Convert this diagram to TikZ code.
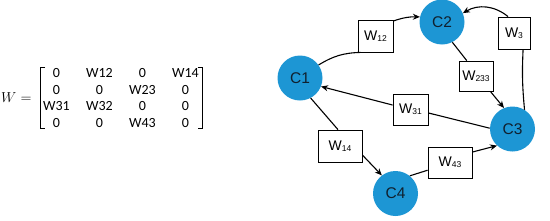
\documentclass[tikz,border=0pt]{standalone}
\usepackage{fontspec}
\setmainfont{Liberation Sans}
\newfontfamily\matfont{Carlito}
\usetikzlibrary{arrows.meta,matrix}
\definecolor{cblue}{HTML}{1D96D4}
\definecolor{ctext}{HTML}{10202E}
\tikzset{
  cnode/.style={circle,fill=cblue,minimum size=45pt,inner sep=0pt,
    font=\fontsize{15.5}{15.5}\selectfont,text=ctext},
  wbox/.style={draw=black,line width=0.8pt,fill=white,inner sep=0pt,
    font=\fontsize{14}{14}\selectfont},
  conn/.style={line width=1.1pt},
  arr/.style={conn,-{Stealth[length=7pt,width=6pt]}},
  mcell/.style={minimum width=43pt,minimum height=16.5pt,inner sep=0pt,
    font=\matfont\fontsize{14}{14}\selectfont},
  brk/.style={line width=0.9pt}
}
\newcommand{\wlab}[1]{W\raisebox{-0.8pt}{\fontsize{8.5}{8.5}\selectfont #1}}
\begin{document}
\begin{tikzpicture}[x=1pt,y=-1pt]
\useasboundingbox (0,0) rectangle (550,220);
% matrix
\node[anchor=east,font=\fontsize{15}{15}\selectfont] (Wlab) at (35,98) {$W=$};
\matrix (M) [matrix of nodes,nodes={mcell},row sep=0pt,column sep=0pt] at (121,98) {
  0 & W12 & 0 & W14 \\
  0 & 0 & W23 & 0 \\
  W31 & W32 & 0 & 0 \\
  0 & 0 & W43 & 0 \\
};
\coordinate (LT) at (40,67.5);
\coordinate (LB) at (40,128);
\coordinate (RT) at (202.5,67.5);
\coordinate (RB) at (202.5,128);
\draw[brk] ([xshift=5pt]LT) -- (LT) -- (LB) -- ([xshift=5pt]LB);
\draw[brk] ([xshift=-5pt]RT) -- (RT) -- (RB) -- ([xshift=-5pt]RB);
% circles
\node[cnode] (C1) at (300,78) {C1};
\node[cnode] (C2) at (442,22) {C2};
\node[cnode] (C3) at (512.5,129) {C3};
\node[cnode] (C4) at (395.5,193.5) {C4};
% boxes
\node[wbox,minimum width=35pt,minimum height=32pt] (W12) at (375.5,36) {\wlab{12}};
\node[wbox,minimum width=32pt,minimum height=32pt] (W3) at (514,33) {\wlab{3}};
\node[wbox,minimum width=34pt,minimum height=30pt] (W233) at (476,76) {\wlab{233}};
\node[wbox,minimum width=35pt,minimum height=31pt] (W31) at (410.5,109.5) {\wlab{31}};
\node[wbox,minimum width=44pt,minimum height=32pt] (W14) at (340,146) {\wlab{14}};
\node[wbox,minimum width=44pt,minimum height=31pt] (W43) at (450,162.5) {\wlab{43}};
% connectors
\draw[conn] (C1.35) to[bend left=15] (W12.-132);
\draw[arr] (W12.40) to[bend left=10] (C2.167);
\draw[arr] (W3.110) to[bend right=35] (C2.23);
\draw[conn] (C3.58) to[bend left=4] (W3.-61);
\draw[conn] (C2.-63) -- (W233.121);
\draw[arr] (W233.-47) -- (C3.112);
\draw[conn] (C3.178) -- (W31.-11);
\draw[arr] (W31.166) -- (C1.-22);
\draw[conn] (C1.-62) -- (W14.97);
\draw[arr] (W14.-22) -- (C4.127);
\draw[conn] (C4.51) -- (W43.199);
\draw[arr] (W43.25) -- (C3.-133);
\end{tikzpicture}
\end{document}
